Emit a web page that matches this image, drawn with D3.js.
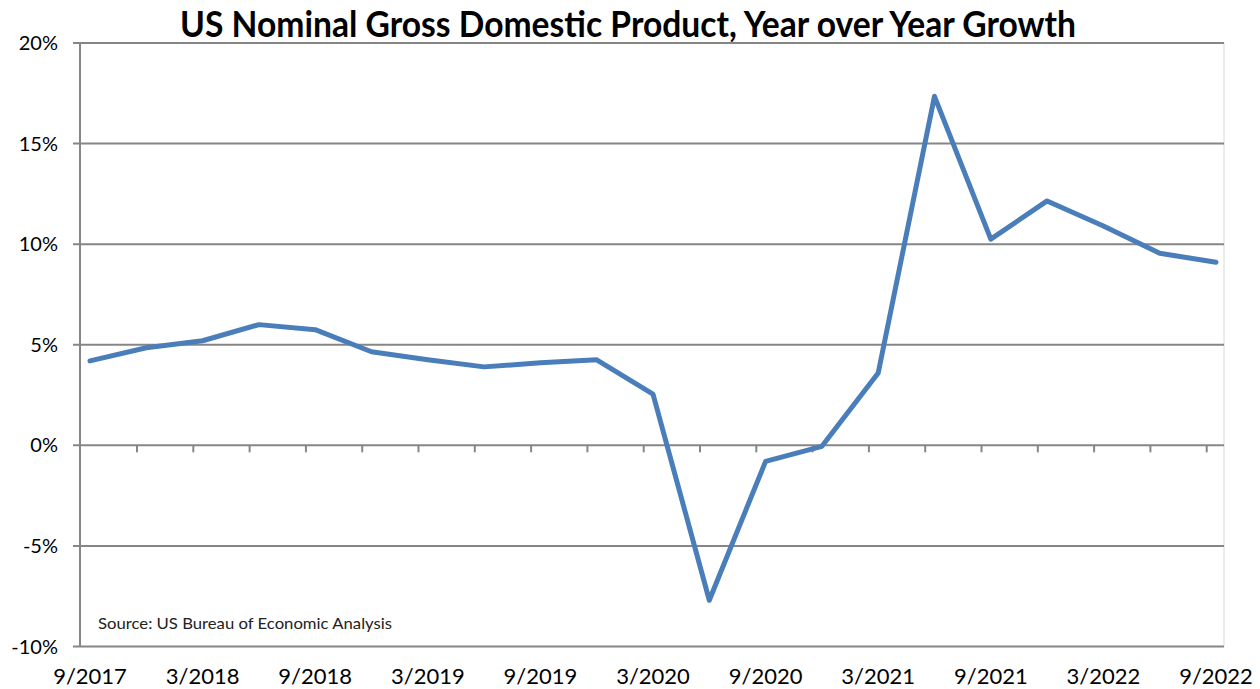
<!DOCTYPE html>
<html>
<head>
<meta charset="utf-8">
<script src="https://cdn.jsdelivr.net/npm/d3@7"></script>
<style>
  body { margin: 0; background: #fff; }
  svg { display: block; font-family: Lato, "Open Sans", sans-serif; }
</style>
</head>
<body>
<svg width="1260" height="689"></svg>
<script>
// quarterly data, yoy growth of nominal GDP (%)
let quarters = ["9/2017","12/2017","3/2018","6/2018","9/2018","12/2018","3/2019","6/2019","9/2019","12/2019",
  "3/2020","6/2020","9/2020","12/2020","3/2021","6/2021","9/2021","12/2021","3/2022","6/2022","9/2022"];
let growth = [4.2, 4.85, 5.2, 6.0, 5.75, 4.65, 4.25, 3.9, 4.1, 4.25,
  2.55, -7.7, -0.8, -0.05, 3.6, 17.35, 10.25, 12.15, 10.9, 9.55, 9.1];
let yTicks = [-10, -5, 0, 5, 10, 15, 20];

let svg = d3.select("svg");

let x = d3.scaleLinear().domain([0, quarters.length - 1]).range([90, 1216]);
let y = d3.scaleLinear().domain([-10, 20]).range([646.5, 43]);

let left = 80, right = 1224;
let grey = "#868686";

// bordure droite
svg.append("line")
    .attr("x1", right).attr("x2", right)
    .attr("y1", y(20)).attr("y2", y(-10))
    .attr("stroke", "#d9d9d9").attr("stroke-width", 1);

// grille horizontale
svg.selectAll(".grid")
    .data(yTicks)
    .enter()
    .append("line")
    .attr("class", "grid")
    .attr("x1", left - 7).attr("x2", right)
    .attr("y1", d => y(d)).attr("y2", d => y(d))
    .attr("stroke", grey)
    .attr("stroke-width", 2);

// axe vertical
svg.append("line")
    .attr("x1", left).attr("x2", left)
    .attr("y1", y(20)).attr("y2", y(-10))
    .attr("stroke", grey).attr("stroke-width", 2);

// labels y
svg.selectAll(".ylab")
    .data(yTicks)
    .enter()
    .append("text")
    .attr("class", "ylab")
    .attr("x", 58)
    .attr("y", d => y(d))
    .attr("dy", "0.35em")
    .attr("text-anchor", "end")
    .attr("font-size", 20)
    .attr("fill", "#000")
    .text(d => d + "%");

// petites graduations sur la ligne 0%
svg.selectAll(".xtick")
    .data(d3.range(quarters.length - 1))
    .enter()
    .append("line")
    .attr("class", "xtick")
    .attr("x1", d => x(d + 0.835)).attr("x2", d => x(d + 0.835))
    .attr("y1", y(0)).attr("y2", y(0) + 7)
    .attr("stroke", grey).attr("stroke-width", 2);

// labels x, un sur deux
svg.selectAll(".xlab")
    .data(quarters.filter((q, i) => i % 2 == 0))
    .enter()
    .append("text")
    .attr("class", "xlab")
    .attr("x", (d, i) => x(i * 2))
    .attr("y", 684)
    .attr("text-anchor", "middle")
    .attr("font-size", 22)
    .attr("fill", "#000")
    .text(d => d);

// la courbe
let ligne = d3.line()
    .x((d, i) => x(i))
    .y(d => y(d));

svg.append("path")
    .datum(growth)
    .attr("d", ligne)
    .attr("fill", "none")
    .attr("stroke", "#4a7ebb")
    .attr("stroke-width", 5)
    .attr("stroke-linejoin", "round")
    .attr("stroke-linecap", "round");

// titre
svg.append("text")
    .attr("x", 628)
    .attr("y", 37)
    .attr("text-anchor", "middle")
    .attr("font-size", 36)
    .attr("font-weight", "bold")
    .attr("textLength", 896)
    .attr("lengthAdjust", "spacingAndGlyphs")
    .text("US Nominal Gross Domestic Product, Year over Year Growth");

// source
svg.append("text")
    .attr("x", 98)
    .attr("y", 629)
    .attr("font-size", 16)
    .attr("fill", "#222")
    .attr("textLength", 294)
    .attr("lengthAdjust", "spacingAndGlyphs")
    .text("Source: US Bureau of Economic Analysis");
</script>
</body>
</html>
